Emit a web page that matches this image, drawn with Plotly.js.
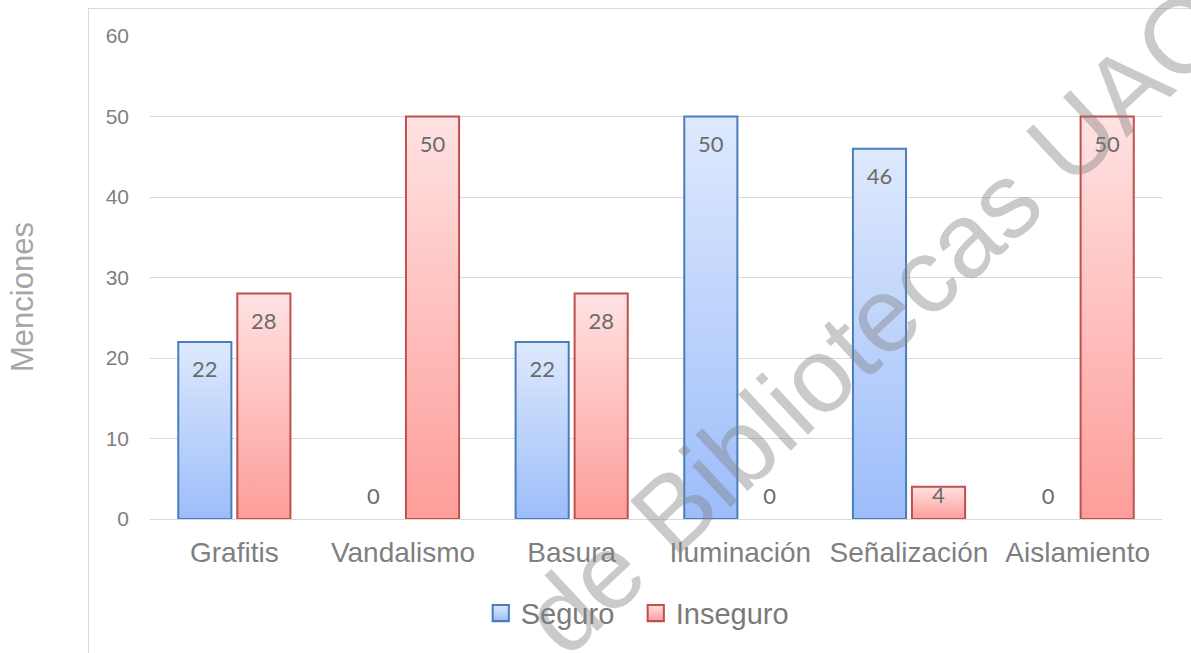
<!DOCTYPE html>
<html>
<head>
<meta charset="utf-8">
<script src="https://cdn.plot.ly/plotly-3.0.1.min.js"></script>
<style>
html,body{margin:0;padding:0;background:#fff;overflow:hidden;}
#frame{position:absolute;left:88px;top:8px;width:1200px;height:700px;border-left:1px solid #d9d9d9;border-top:1px solid #d9d9d9;}
#chart{position:absolute;left:0;top:0;width:1191px;height:653px;}
</style>
</head>
<body>
<div id="frame"></div>
<div id="chart"></div>
<script>
var categories = ["Grafitis", "Vandalismo", "Basura", "Iluminación", "Señalización", "Aislamiento"];
var seguro = [22, 0, 22, 50, 46, 0];
var inseguro = [28, 50, 28, 0, 4, 50];
var seriesNames = ["Seguro", "Inseguro"];
var yTicks = [0, 10, 20, 30, 40, 50, 60];

function posFor(vals){ return vals.map(function(v){ return v === 0 ? 'outside' : 'inside'; }); }
function lineFor(vals){ return vals.map(function(v){ return v === 0 ? 0 : 2; }); }

var labelFont = {family: "Lato, 'Open Sans', sans-serif", size: 22, color: "#6b6b6b"};

function makeTrace(name, vals, lineColor, fill){
  return {
    type: 'bar', name: name, x: categories, y: vals,
    text: vals.map(String), textposition: posFor(vals), insidetextanchor: 'end',
    textangle: 0, constraintext: 'none', cliponaxis: false,
    textfont: labelFont, insidetextfont: labelFont, outsidetextfont: labelFont,
    marker: {color: fill, line: {color: lineColor, width: lineFor(vals)}},
    hoverinfo: 'none'
  };
}

var traces = [
  makeTrace(seriesNames[0], seguro, '#4a7ebb', '#bcd2fb'),
  makeTrace(seriesNames[1], inseguro, '#c0504d', '#fdbfbd')
];

var layout = {
  width: 1191, height: 653,
  margin: {l: 150, r: 29, t: 36, b: 134, pad: 0},
  paper_bgcolor: 'rgba(0,0,0,0)', plot_bgcolor: 'rgba(0,0,0,0)',
  barmode: 'group', bargap: 0.3, bargroupgap: 0.1,
  font: {family: "'Liberation Sans', Arial, sans-serif", color: '#7f7f7f'},
  xaxis: {
    type: 'category', showgrid: false, zeroline: false, showline: false,
    ticks: '', tickfont: {size: 28, color: '#7f7f7f'}, ticklabelstandoff: 14
  },
  yaxis: {
    range: [0, 60], tickvals: yTicks, ticktext: yTicks.map(String),
    showgrid: true, gridcolor: '#d9d9d9', gridwidth: 1,
    zeroline: true, zerolinecolor: '#d9d9d9', zerolinewidth: 1,
    showline: false, ticks: '', tickfont: {size: 21, color: '#7f7f7f'}, ticklabelstandoff: 20
  },
  showlegend: true,
  legend: {
    orientation: 'h', x: 0.480, xanchor: 'center', y: -0.195, yanchor: 'middle',
    font: {size: 29, color: '#7a7a7a'}, itemclick: false, traceorder: 'normal',
    itemwidth: 30, entrywidth: 110, entrywidthmode: 'pixels', bgcolor: 'rgba(0,0,0,0)'
  },
  annotations: [
    {
      text: 'Menciones', xref: 'paper', yref: 'paper', x: -0.1265, y: 0.4596,
      xanchor: 'center', yanchor: 'middle', textangle: -90, showarrow: false,
      font: {size: 31, color: '#a6a6a6'}
    },
    {
      text: 'de Bibliotecas UAQ', xref: 'paper', yref: 'paper', x: 0.718, y: 0.412,
      xanchor: 'center', yanchor: 'middle', textangle: -43, showarrow: false,
      font: {size: 106, color: 'rgba(128,128,128,0.42)'}
    }
  ]
};

Plotly.newPlot('chart', traces, layout, {staticPlot: true, displayModeBar: false}).then(function(gd){
  var svgNS = 'http://www.w3.org/2000/svg';
  var svg = gd.querySelector('svg.main-svg');
  var defs = svg.querySelector('defs') || svg.insertBefore(document.createElementNS(svgNS, 'defs'), svg.firstChild);
  function grad(id, top, bottom){
    var g = document.createElementNS(svgNS, 'linearGradient');
    g.setAttribute('id', id); g.setAttribute('x1', '0'); g.setAttribute('y1', '0');
    g.setAttribute('x2', '0'); g.setAttribute('y2', '1');
    [[0, top], [1, bottom]].forEach(function(s){
      var st = document.createElementNS(svgNS, 'stop');
      st.setAttribute('offset', s[0]); st.setAttribute('stop-color', s[1]);
      g.appendChild(st);
    });
    defs.appendChild(g);
  }
  grad('gBlue', '#dee9fd', '#9cbdfa');
  grad('gRed', '#ffe2e2', '#fd9d99');
  var ids = ['gBlue', 'gRed'];
  var dataSets = [seguro, inseguro];
  var fl = gd._fullLayout;
  var zeroPx = fl._size.t + fl.yaxis.l2p(0);
  var barTraces = gd.querySelectorAll('.barlayer .trace.bars');
  barTraces.forEach(function(t, i){
    t.querySelectorAll('.point').forEach(function(pt, j){
      var p = pt.querySelector('path');
      if (p) p.style.fill = 'url(#' + ids[i] + ')';
      var tx = pt.querySelector('text.bartext');
      if (tx) {
        var tb = tx.getBoundingClientRect();
        var cy = tb.top + tb.height / 2;
        var target;
        if (dataSets[i][j] === 0 || !p) {
          target = zeroPx - 24;
        } else {
          var pb = p.getBoundingClientRect();
          target = pb.height >= 60 ? pb.top + 27 : pb.top + 8;
        }
        var tr = tx.getAttribute('transform') || '';
        tx.setAttribute('transform', 'translate(0,' + (target - cy) + ') ' + tr);
      }
    });
  });
  gd.querySelectorAll('.legend [clip-path]').forEach(function(el){ el.removeAttribute('clip-path'); });
  var legendTraces = gd.querySelectorAll('.legend .traces');
  legendTraces.forEach(function(t, i){
    t.querySelectorAll('.legendpoints path').forEach(function(p){
      p.style.fill = 'url(#' + ids[i] + ')';
      p.style.strokeWidth = '1.5px';
      var tr = p.getAttribute('transform') || '';
      p.setAttribute('transform', tr + ' scale(1.35)');
    });
  });
});
</script>
</body>
</html>
